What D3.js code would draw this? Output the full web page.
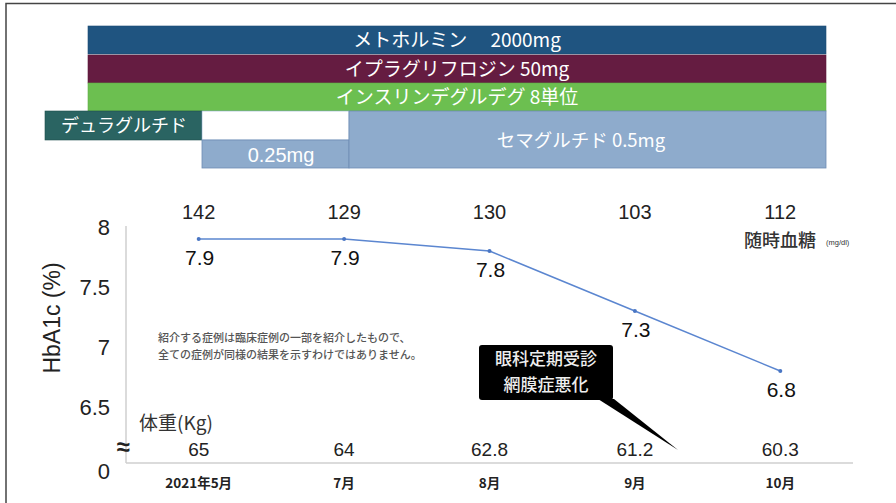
<!DOCTYPE html>
<html><head><meta charset="utf-8">
<script src="https://cdn.jsdelivr.net/npm/d3@7"></script>
<style>html,body{margin:0;padding:0;background:#fff;overflow:hidden}</style>
</head><body>
<svg id="c" width="896" height="503"></svg>
<script>
const months = ["2021年5月","7月","8月","9月","10月"];
const hba1c = [7.9, 7.9, 7.8, 7.3, 6.8];
const glucose = [142, 129, 130, 103, 112];
const weight = ["65","64","62.8","61.2","60.3"];
const yTicks = [8, 7.5, 7, 6.5];
const drugs = [
  {label:"メトホルミン　 2000mg", from:0, to:5, row:0, color:"#1f5480"},
  {label:"イプラグリフロジン 50mg", from:0, to:5, row:1, color:"#651c41"},
  {label:"インスリンデグルデグ 8単位", from:0, to:5, row:2, color:"#6cbf50"}
];

const F = "'Liberation Sans','Noto Sans CJK JP',sans-serif";
const FJ = "'Noto Sans CJK JP','Liberation Sans',sans-serif";
const svg = d3.select("#c");

// frame
svg.append("rect").attr("x",6).attr("y",3.5).attr("width",900).attr("height",510)
  .attr("fill","none").attr("stroke","#444").attr("stroke-width",1.5);

// scales
const x = d3.scaleBand().domain(months).range([126,853]);
const cx = d => x(d) + x.bandwidth()/2;
const y = d3.scaleLinear().domain([6.5, 8]).range([407, 227]);
const baseY = 463;

// drug timeline
const bx = d3.scaleLinear().domain([0,5]).range([88,826]);
const rowH = 28, top0 = 26;
drugs.forEach(d=>{
  const yy = top0 + d.row*rowH + (d.row>0?1:0);
  svg.append("rect").attr("x",bx(d.from)).attr("y",yy).attr("width",bx(d.to)-bx(d.from)).attr("height",rowH)
    .attr("fill",d.color).attr("stroke",d3.color(d.color).darker(0.3)).attr("stroke-width",0.6);
  svg.append("text").attr("x",(bx(d.from)+bx(d.to))/2).attr("y",yy+rowH/2+7).attr("text-anchor","middle")
    .attr("fill","#fff").attr("font-family",FJ).attr("font-size",19).text(d.label);
});
const r3 = top0 + 3*rowH + 1; // 111
svg.append("rect").attr("x",45).attr("y",r3).attr("width",157).attr("height",29)
  .attr("fill","#2a6462").attr("stroke","#1f4f4d").attr("stroke-width",0.6);
svg.append("text").attr("x",124).attr("y",r3+21).attr("text-anchor","middle")
  .attr("fill","#fff").attr("font-family",FJ).attr("font-size",18).text("デュラグルチド");
svg.append("rect").attr("x",202).attr("y",r3).attr("width",147).attr("height",29)
  .attr("fill","#fff").attr("stroke","#8eabcc").attr("stroke-width",0.6);
svg.append("rect").attr("x",202).attr("y",r3+29).attr("width",147).attr("height",28)
  .attr("fill","#8eabcc").attr("stroke","#6e8db5").attr("stroke-width",0.8);
svg.append("text").attr("x",281).attr("y",r3+51).attr("text-anchor","middle")
  .attr("fill","#fff").attr("font-family",F).attr("font-size",20).text("0.25mg");
svg.append("rect").attr("x",349).attr("y",r3).attr("width",477).attr("height",57)
  .attr("fill","#8eabcc").attr("stroke","#6e8db5").attr("stroke-width",0.8);
svg.append("text").attr("x",581).attr("y",r3+36).attr("text-anchor","middle")
  .attr("fill","#fff").attr("font-family",FJ).attr("font-size",18.5).text("セマグルチド 0.5mg");

// axes lines
svg.append("line").attr("x1",126).attr("x2",126).attr("y1",226).attr("y2",baseY)
  .attr("stroke","#cfcfcf").attr("stroke-width",1.5);
svg.append("line").attr("x1",126).attr("x2",853).attr("y1",baseY).attr("y2",baseY)
  .attr("stroke","#cfcfcf").attr("stroke-width",1.5);

// y tick labels
yTicks.forEach(t=>{
  svg.append("text").attr("x",110).attr("y",y(t)+8).attr("text-anchor","end")
    .attr("font-family",F).attr("font-size",22).attr("fill","#222").text(String(t));
});
svg.append("text").attr("x",110).attr("y",479).attr("text-anchor","end")
  .attr("font-family",F).attr("font-size",22).attr("fill","#222").text("0");
svg.append("text").attr("x",123).attr("y",455).attr("text-anchor","middle")
  .attr("font-family",F).attr("font-size",24).attr("font-weight","bold").attr("fill","#222").text("≈");

// y title
svg.append("text").attr("transform","translate(60,318) rotate(-90)").attr("text-anchor","middle")
  .attr("font-family",F).attr("font-size",23).attr("fill","#222").text("HbA1c (%)");

// x labels
months.forEach(m=>{
  svg.append("text").attr("x",cx(m)).attr("y",488).attr("text-anchor","middle")
    .attr("font-family",FJ).attr("font-size",13.5).attr("font-weight","bold").attr("fill","#222").text(m);
});

// line
const line = d3.line().x((d,i)=>cx(months[i])).y(d=>y(d));
svg.append("path").datum(hba1c).attr("d",line).attr("fill","none")
  .attr("stroke","#5b86d0").attr("stroke-width",1.5);
svg.selectAll(".pt").data(hba1c).enter().append("circle")
  .attr("cx",(d,i)=>cx(months[i])).attr("cy",d=>y(d)).attr("r",2).attr("fill","#4a76c4");
hba1c.forEach((v,i)=>{
  svg.append("text").attr("x",cx(months[i])+1).attr("y",y(v)+26).attr("text-anchor","middle")
    .attr("font-family",F).attr("font-size",21).attr("fill","#111").text(v.toFixed(1));
});

// glucose
glucose.forEach((v,i)=>{
  svg.append("text").attr("x",cx(months[i])).attr("y",219).attr("text-anchor","middle")
    .attr("font-family",F).attr("font-size",20).attr("fill","#222").text(String(v));
});
svg.append("text").attr("x",780).attr("y",247).attr("text-anchor","middle")
  .attr("font-family",FJ).attr("font-size",18).attr("font-weight",500).attr("fill","#333").text("随時血糖");
svg.append("text").attr("x",826).attr("y",245).attr("text-anchor","start")
  .attr("font-family",F).attr("font-size",7.5).attr("fill","#333").text("(mg/dl)");

// weight
svg.append("text").attr("x",139).attr("y",430).attr("text-anchor","start")
  .attr("font-family",FJ).attr("font-size",19).attr("fill","#333").text("体重(Kg)");
weight.forEach((v,i)=>{
  svg.append("text").attr("x",cx(months[i])).attr("y",456).attr("text-anchor","middle")
    .attr("font-family",F).attr("font-size",19).attr("fill","#222").text(v);
});

// disclaimer
svg.append("text").attr("x",158).attr("y",342).attr("font-family",FJ).attr("font-size",11)
  .attr("font-weight",500).attr("fill","#555").text("紹介する症例は臨床症例の一部を紹介したもので、");
svg.append("text").attr("x",158).attr("y",359).attr("font-family",FJ).attr("font-size",11)
  .attr("font-weight",500).attr("fill","#555").text("全ての症例が同様の結果を示すわけではありません。");

// callout
svg.append("path").attr("d","M598,399 L614,399 L678,450 Z").attr("fill","#000");
svg.append("rect").attr("x",479).attr("y",345).attr("width",134).attr("height",55).attr("rx",3)
  .attr("fill","#000");
svg.append("text").attr("x",546).attr("y",365).attr("text-anchor","middle")
  .attr("font-family",FJ).attr("font-size",17).attr("font-weight",500).attr("fill","#eee").text("眼科定期受診");
svg.append("text").attr("x",546).attr("y",391).attr("text-anchor","middle")
  .attr("font-family",FJ).attr("font-size",17).attr("font-weight",500).attr("fill","#eee").text("網膜症悪化");
</script>
</body></html>
